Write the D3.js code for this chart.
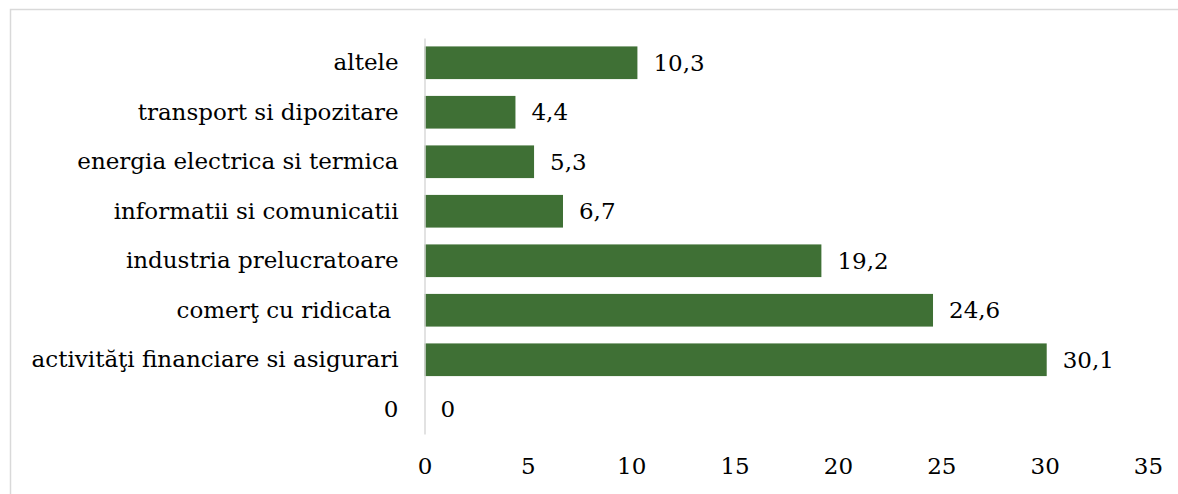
<!DOCTYPE html>
<html>
<head>
<meta charset="utf-8">
<script src="https://cdn.jsdelivr.net/npm/d3@7"></script>
<style>
  body { margin: 0; background: #fff; }
  text { font-family: "DejaVu Serif", serif; fill: #000; }
</style>
</head>
<body>
<div id="chart"></div>
<script>
// Categories top to bottom, as they appear in the chart
var categories = [
    'altele',
    'transport si dipozitare',
    'energia electrica si termica',
    'informatii si comunicatii',
    'industria prelucratoare',
    'comerţ cu ridicata ',
    'activităţi financiare si asigurari',
    '0'
];
var values = [10.3, 4.4, 5.3, 6.7, 19.2, 24.6, 30.1, 0];
var xTicks = [0, 5, 10, 15, 20, 25, 30, 35];

var width = 1178, height = 494;
var barColor = '#3f7035';
var fontFamily = '"DejaVu Serif", serif';
var fontSize = 23;

var data = categories.map(function(c, i) { return { name: c, value: values[i] }; });

var svg = d3.select('#chart').append('svg')
    .attr('width', width)
    .attr('height', height);

// outer chart border (only top and left visible in frame)
svg.append('rect')
    .attr('x', 10.5).attr('y', 9.5)
    .attr('width', width + 20).attr('height', height + 20)
    .attr('fill', 'none')
    .attr('stroke', '#d9d9d9')
    .attr('stroke-width', 1.5);

var x = d3.scaleLinear().domain([0, 35]).range([424.5, 1148]);
var y = d3.scaleBand().domain(categories).range([38, 434])
    .paddingInner(0.34).paddingOuter(0.17);

function fmt(v) { return String(v).replace('.', ','); }

// bars
svg.selectAll('rect.bar')
    .data(data)
    .enter()
    .append('rect')
        .attr('class', 'bar')
        .attr('x', x(0))
        .attr('y', function(d) { return y(d.name); })
        .attr('width', function(d) { return x(d.value) - x(0); })
        .attr('height', y.bandwidth())
        .attr('fill', barColor);

// category axis (vertical line + labels)
var yAxis = svg.append('g')
    .attr('transform', 'translate(' + x(0) + ',0)')
    .call(d3.axisLeft(y).tickSize(0).tickSizeOuter(0).tickPadding(26));
yAxis.select('.domain').attr('stroke', '#d9d9d9').attr('stroke-width', 1.5);
yAxis.selectAll('text')
    .style('font-family', fontFamily)
    .style('font-size', fontSize + 'px')
    .style('white-space', 'pre')
    .attr('fill', '#000');

// value axis, labels only
var xAxis = svg.append('g')
    .attr('transform', 'translate(0,' + 458 + ')')
    .call(d3.axisBottom(x).tickValues(xTicks).tickSize(0).tickPadding(0));
xAxis.select('.domain').remove();
xAxis.selectAll('text')
    .style('font-family', fontFamily)
    .style('font-size', fontSize + 'px')
    .attr('fill', '#000');

// value labels
svg.selectAll('text.val')
    .data(data)
    .enter()
    .append('text')
        .attr('class', 'val')
        .attr('x', function(d) { return x(d.value) + 16; })
        .attr('y', function(d) { return y(d.name) + y.bandwidth() / 2; })
        .attr('dy', '0.35em')
        .style('font-family', fontFamily)
        .style('font-size', fontSize + 'px')
        .text(function(d) { return fmt(d.value); });
</script>
</body>
</html>
